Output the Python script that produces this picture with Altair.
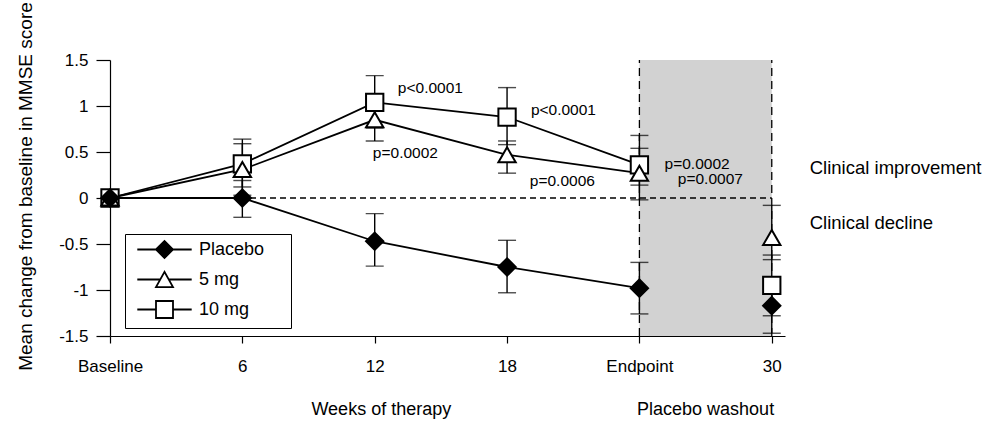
import json
import altair as alt
import pandas as pd

# Visit positions on the x axis and their tick labels
visits = [0, 1, 2, 3, 4, 5]
visit_labels = ["Baseline", "6", "12", "18", "Endpoint", "30"]

series_names = ["Placebo", "5 mg", "10 mg"]

# Mean change in MMSE score with lower / upper error limits
placebo_mean = [0.0, 0.0, -0.47, -0.75, -0.98, -1.17]
placebo_low = [0.0, -0.21, -0.74, -1.03, -1.26, -1.47]
placebo_high = [0.0, 0.19, -0.17, -0.46, -0.70, -0.87]

mg5_mean = [0.0, 0.31, 0.85, 0.47, 0.27, -0.43]
mg5_low = [0.0, 0.03, 0.62, 0.27, -0.02, -0.67]
mg5_high = [0.0, 0.59, 1.08, 0.62, 0.54, -0.08]

mg10_mean = [0.0, 0.37, 1.04, 0.88, 0.36, -0.95]
mg10_low = [0.0, 0.12, 0.76, 0.58, 0.14, -1.28]
mg10_high = [0.0, 0.64, 1.33, 1.20, 0.68, -0.62]

# Significance annotations (x in visit units, y in score units)
p_text = ["p<0.0001", "p=0.0002", "p<0.0001", "p=0.0006", "p=0.0002", "p=0.0007"]
p_x = [2.175, 1.986, 3.18, 3.172, 4.19, 4.29]
p_y = [1.196, 0.489, 0.957, 0.185, 0.372, 0.205]

side_text = ["Clinical improvement", "Clinical decline"]
side_x = [5.287, 5.287]
side_y = [0.326, -0.27]

phase_text = ["Weeks of therapy", "Placebo washout"]
phase_x = [2.05, 4.5]
phase_y = [-2.30, -2.30]

# Placebo washout period
washout_start = [4]
washout_end = [5]

FONT = "Liberation Sans"

rows = []
# 10 mg first so that the filled placebo diamonds are drawn on top
for name, mean, lo, hi in [
    ("10 mg", mg10_mean, mg10_low, mg10_high),
    ("5 mg", mg5_mean, mg5_low, mg5_high),
    ("Placebo", placebo_mean, placebo_low, placebo_high),
]:
    for v, m, l, h in zip(visits, mean, lo, hi):
        rows.append({"series": name, "visit": v, "mean": m, "lo": l, "hi": h})
df = pd.DataFrame(rows)

x_scale = alt.Scale(domain=[0, 5.1], nice=False, zero=False)
y_scale = alt.Scale(domain=[-1.5, 1.5], nice=False, zero=False)

x_axis = alt.Axis(
    values=visits,
    labelExpr=json.dumps(visit_labels) + "[datum.value]",
    title=None,
    grid=False,
    tickSize=7,
    labelPadding=15,
    labelFontSize=17,
    labelFont=FONT,
    labelColor="black",
    domainColor="black",
    tickColor="black",
    domainWidth=1.2,
    tickWidth=1.2,
    labelFlush=False,
)
y_axis = alt.Axis(
    values=[-1.5, -1, -0.5, 0, 0.5, 1, 1.5],
    labelExpr="'' + datum.value",
    title="Mean change from baseline in MMSE score",
    titleFont=FONT,
    titleFontSize=19,
    titleFontWeight="normal",
    titleColor="black",
    titleAngle=-90,
    titleX=-79,
    titleY=126,
    titleAlign="center",
    titleBaseline="alphabetic",
    grid=False,
    tickSize=14,
    labelPadding=8,
    labelFontSize=17,
    labelFont=FONT,
    labelColor="black",
    domainColor="black",
    tickColor="black",
    domainWidth=1.2,
    tickWidth=1.2,
)


def X(field):
    return alt.X(field, type="quantitative", scale=x_scale, axis=x_axis)


def Y(field):
    return alt.Y(field, type="quantitative", scale=y_scale, axis=y_axis)


shade_df = pd.DataFrame({"x0": washout_start, "x1": washout_end, "y0": [-1.5], "y1": [1.5]})
shade = alt.Chart(shade_df).mark_rect(fill="#d2d2d2").encode(
    x=X("x0"), x2="x1", y=Y("y0"), y2="y1"
)

bounds_df = pd.DataFrame({"x": washout_start + washout_end, "y0": [-1.5, -1.5], "y1": [1.5, 1.5]})
vlines = alt.Chart(bounds_df).mark_rule(
    color="black", strokeWidth=1.3, strokeDash=[8, 5]
).encode(x=X("x"), y=Y("y0"), y2="y1")

zero_df = pd.DataFrame({"x0": [0], "x1": washout_end, "y": [0]})
zero = alt.Chart(zero_df).mark_rule(
    color="black", strokeWidth=1.3, strokeDash=[6, 4]
).encode(x=X("x0"), x2="x1", y=Y("y"))

err = alt.Chart(df).transform_filter("datum.hi > datum.lo")
bars = err.mark_rule(color="black", strokeWidth=1.4).encode(x=X("visit"), y=Y("lo"), y2="hi")
caps_lo = err.mark_tick(color="black", orient="horizontal", size=18, thickness=1.4).encode(
    x=X("visit"), y=Y("lo")
)
caps_hi = err.mark_tick(color="black", orient="horizontal", size=18, thickness=1.4).encode(
    x=X("visit"), y=Y("hi")
)

lines = (
    alt.Chart(df)
    .transform_filter("datum.visit <= 4")
    .mark_line(color="black", strokeWidth=1.8)
    .encode(x=X("visit"), y=Y("mean"), detail="series:N")
)

points = alt.Chart(df).mark_point(
    filled=True, size=300, stroke="black", strokeWidth=2, opacity=1
).encode(
    x=X("visit"),
    y=Y("mean"),
    shape=alt.Shape(
        "series:N",
        scale=alt.Scale(domain=series_names, range=["diamond", "triangle-up", "square"]),
        legend=None,
    ),
    fill=alt.Fill(
        "series:N",
        scale=alt.Scale(domain=series_names, range=["black", "white", "white"]),
        legend=None,
    ),
)

# Legend symbols: marker with a line segment on both sides; the trailing
# move-to widens the legend frame to the right of the labels
legend_paths = [
    "M-3.2,0H-1M1,0H3.2M-1,0L0,-1L1,0L0,1ZM13.7,0",
    "M-3.2,0H-0.5M0.5,0H3.2M0,-0.9L-1,0.9L1,0.9ZM13.7,0",
    "M-3.2,0H-1M1,0H3.2M-1,-1H1V1H-1ZM13.7,0",
]
legend_spec = dict(
    title=None,
    orient="none",
    legendX=15,
    legendY=174,
    padding=6,
    strokeColor="black",
    symbolSize=289,
    symbolOffset=24,
    labelOffset=25,
    symbolStrokeWidth=1.8,
    labelFont=FONT,
    labelFontSize=18,
    labelColor="black",
    rowPadding=6,
)
legend_layer = (
    alt.Chart(df)
    .transform_filter("false")
    .mark_point(filled=True, opacity=1, strokeWidth=1.8)
    .encode(
        x=X("visit"),
        y=Y("mean"),
        shape=alt.Shape(
            "series:N",
            scale=alt.Scale(domain=series_names, range=legend_paths),
            legend=alt.Legend(**legend_spec),
        ),
        fill=alt.Fill(
            "series:N",
            scale=alt.Scale(domain=series_names, range=["black", "white", "white"]),
            legend=alt.Legend(**legend_spec),
        ),
        stroke=alt.Stroke(
            "series:N",
            scale=alt.Scale(domain=series_names, range=["black", "black", "black"]),
            legend=alt.Legend(**legend_spec),
        ),
    )
)

p_df = pd.DataFrame({"text": p_text, "x": p_x, "y": p_y})
p_labels = alt.Chart(p_df).mark_text(
    align="left", baseline="middle", font=FONT, fontSize=15.5, color="black"
).encode(x=X("x"), y=Y("y"), text="text:N")

side_df = pd.DataFrame({"text": side_text, "x": side_x, "y": side_y})
side_labels = alt.Chart(side_df).mark_text(
    align="left", baseline="middle", font=FONT, fontSize=18.5, color="black"
).encode(x=X("x"), y=Y("y"), text="text:N")

phase_df = pd.DataFrame({"text": phase_text, "x": phase_x, "y": phase_y})
phase_labels = alt.Chart(phase_df).mark_text(
    align="center", baseline="middle", font=FONT, fontSize=18, color="black"
).encode(x=X("x"), y=Y("y"), text="text:N")

chart = (
    alt.layer(
        shade, vlines, zero, bars, caps_lo, caps_hi, lines, points,
        legend_layer, p_labels, side_labels, phase_labels,
    )
    .resolve_scale(shape="independent", fill="independent", stroke="independent")
    .properties(
        width=675,
        height=276,
        autosize=alt.AutoSizeParams(type="none"),
        padding={"left": 110, "top": 60, "right": 218, "bottom": 90},
        background="white",
    )
    .configure_view(stroke=None)
)

chart.save("out.html", embed_options={"renderer": "svg", "actions": False})
